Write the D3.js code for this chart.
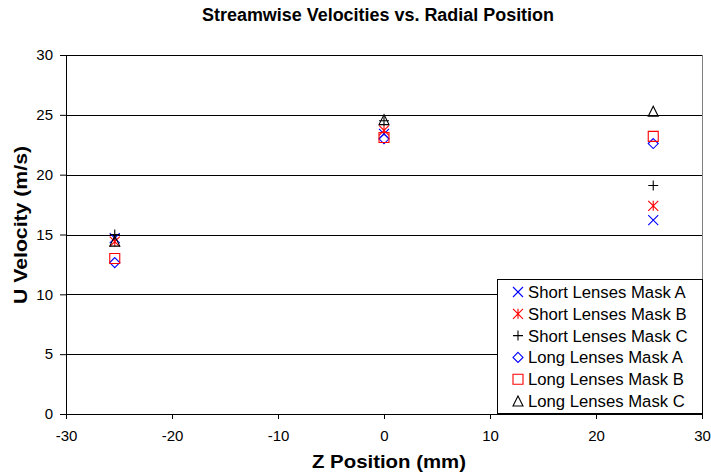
<!DOCTYPE html>
<html><head><meta charset="utf-8">
<script src="https://cdn.jsdelivr.net/npm/d3@7"></script>
<style>body{margin:0;background:#fff}text{font-family:Arial,"Liberation Sans",sans-serif}</style>
</head><body><svg id="c" width="711" height="476"></svg>
<script>
const positions = [-25.4, 0, 25.4];
const shortA = [14.7, 23.4, 16.2];
const shortB = [14.4, 23.7, 17.4];
const shortC = [15.0, 24.5, 19.1];
const longA = [12.65, 23.0, 22.6];
const longB = [13.0, 23.1, 23.2];
const longC = [14.45, 24.6, 25.3];
const seriesNames = ["Short Lenses Mask A","Short Lenses Mask B","Short Lenses Mask C","Long Lenses Mask A","Long Lenses Mask B","Long Lenses Mask C"];
const xTicks = [-30,-20,-10,0,10,20,30];
const yTicks = [0,5,10,15,20,25,30];

const series = [
  {name:seriesNames[0], vals:shortA, shape:"x", color:"#0000ff"},
  {name:seriesNames[1], vals:shortB, shape:"star", color:"#ff0000"},
  {name:seriesNames[2], vals:shortC, shape:"plus", color:"#000000"},
  {name:seriesNames[3], vals:longA, shape:"diamond", color:"#0000ff"},
  {name:seriesNames[4], vals:longB, shape:"square", color:"#ff0000"},
  {name:seriesNames[5], vals:longC, shape:"triangle", color:"#000000"}
];

const svg = d3.select("#c");
const L=66, R=702, T=55, B=414;
const x = d3.scaleLinear().domain([-30,30]).range([L,R]);
const y = d3.scaleLinear().domain([0,30]).range([B,T]);

function markerPath(shape, s){
  const h=s/2;
  switch(shape){
    case "x": return `M${-h},${-h}L${h},${h}M${-h},${h}L${h},${-h}`;
    case "plus": return `M${-h},0L${h},0M0,${-h}L0,${h}`;
    case "star": return `M${-h},${-h}L${h},${h}M${-h},${h}L${h},${-h}M0,${-h}L0,${h}`;
    case "diamond": return `M0,${-h}L${h},0L0,${h}L${-h},0Z`;
    case "square": return `M${-h},${-h}L${h},${-h}L${h},${h}L${-h},${h}Z`;
    case "triangle": return `M0,${-h}L${h},${h}L${-h},${h}Z`;
  }
}

// gridlines
svg.append("g").selectAll("line").data(yTicks.filter(d=>d>0)).join("line")
  .attr("x1",L).attr("x2",R).attr("y1",d=>Math.round(y(d))+0.5).attr("y2",d=>Math.round(y(d))+0.5)
  .attr("stroke","#000").attr("stroke-width",1);
// right border
svg.append("line").attr("x1",R+0.5).attr("x2",R+0.5).attr("y1",T).attr("y2",B)
  .attr("stroke","#808080");

// axes
const yAxis = d3.axisLeft(y).tickValues(yTicks).tickSize(6).tickPadding(7).tickFormat(d=>String(d));
const gy = svg.append("g").attr("transform",`translate(${L},0)`).call(yAxis);
const xAxis = d3.axisBottom(x).tickValues(xTicks).tickSize(5).tickPadding(11).tickFormat(d=>String(d));
const gx = svg.append("g").attr("transform",`translate(0,${B})`).call(xAxis);
[gx,gy].forEach(g=>{
  g.select(".domain").attr("stroke","#000");
  g.selectAll(".tick line").attr("stroke","#000");
  g.selectAll("text").attr("font-size",15).attr("fill","#000").attr("font-family","Arial, 'Liberation Sans', sans-serif");
});
gx.select(".domain").attr("d",`M${L},0.5H${R}`);
gy.select(".domain").attr("d",`M0.5,${T}V${B}`);

// markers
series.forEach(s=>{
  svg.append("g").selectAll("path").data(positions.map((p,i)=>[p,s.vals[i]])).join("path")
    .attr("transform",d=>`translate(${x(d[0])},${y(d[1])})`)
    .attr("d",markerPath(s.shape,10))
    .attr("fill","none").attr("stroke",s.color).attr("stroke-width",1.1);
});

// titles
svg.append("text").attr("x",378).attr("y",21).attr("text-anchor","middle")
  .attr("font-size",18).attr("font-weight","bold")
  .attr("textLength",352).attr("lengthAdjust","spacingAndGlyphs")
  .text("Streamwise Velocities vs. Radial Position");
svg.append("text").attr("x",389).attr("y",468).attr("text-anchor","middle")
  .attr("font-size",18.5).attr("font-weight","bold")
  .attr("textLength",154).attr("lengthAdjust","spacingAndGlyphs")
  .text("Z Position (mm)");
svg.append("text").attr("transform",`translate(27,225) rotate(-90)`).attr("text-anchor","middle")
  .attr("font-size",18).attr("font-weight","bold")
  .attr("textLength",158).attr("lengthAdjust","spacingAndGlyphs")
  .text("U Velocity (m/s)");

// legend
const lg = svg.append("g").attr("transform","translate(497,279)");
lg.append("rect").attr("x",0.5).attr("y",0.5).attr("width",205).attr("height",134)
  .attr("fill","#fff").attr("stroke","#000");
series.forEach((s,i)=>{
  const yy = 13 + i*21.8;
  lg.append("path").attr("transform",`translate(21,${yy})`).attr("d",markerPath(s.shape,10))
    .attr("fill","none").attr("stroke",s.color).attr("stroke-width",1.1);
  lg.append("text").attr("x",31).attr("y",yy+6).attr("font-size",16.7).text(s.name);
});
</script></body></html>
